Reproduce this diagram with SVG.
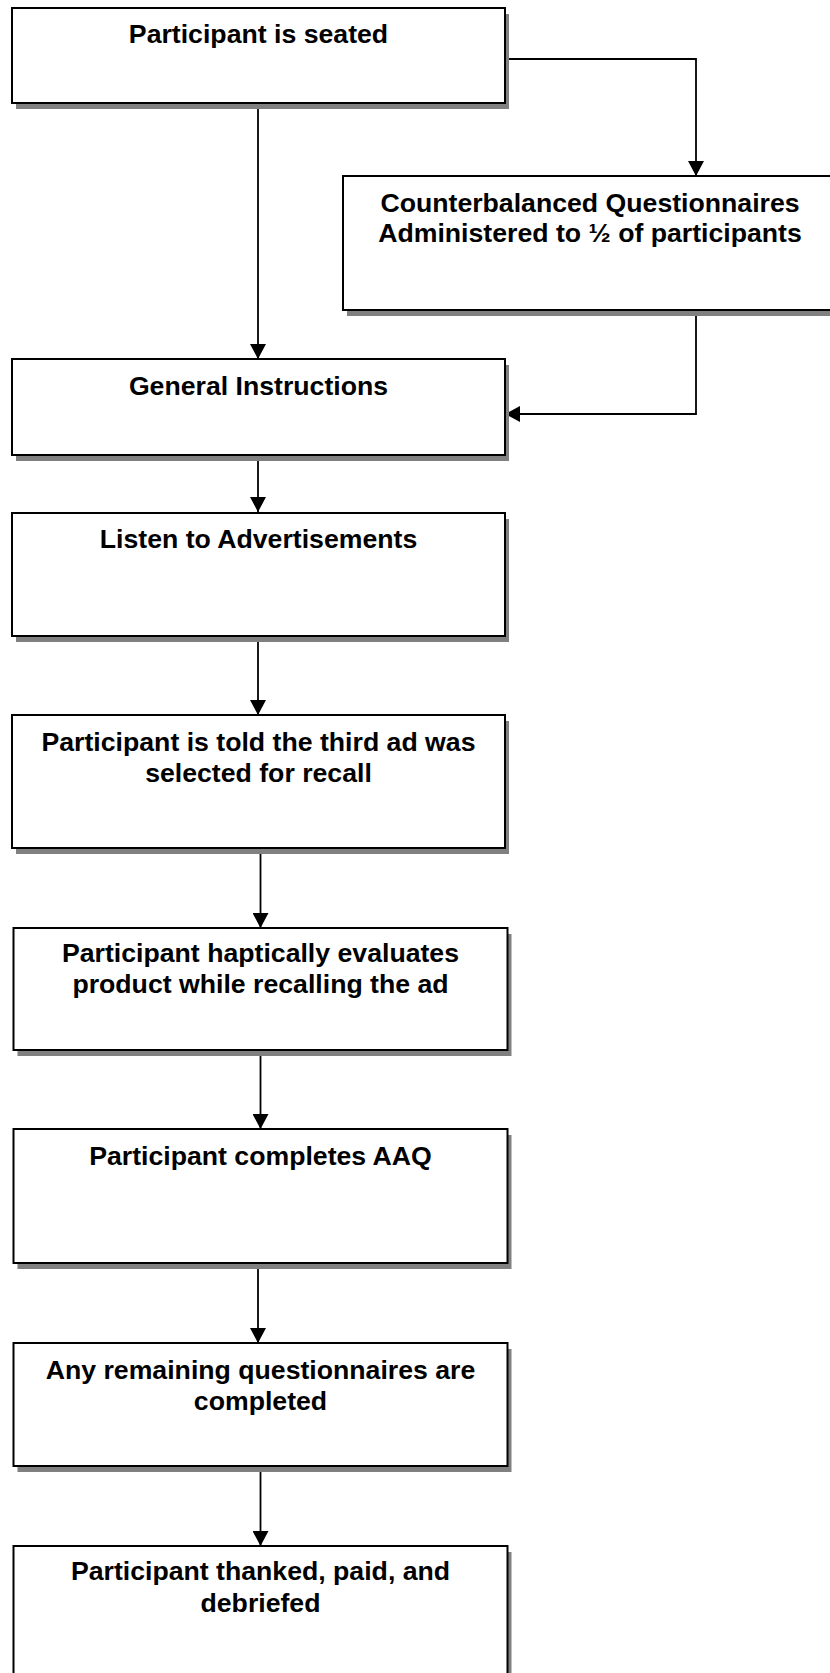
<svg xmlns="http://www.w3.org/2000/svg" width="830" height="1673" viewBox="0 0 830 1673">
<style>
.sh{fill:#808080;stroke:none}
.bx{fill:#fff;stroke:#000;stroke-width:2}
.t{font-family:"Liberation Sans",Arial,sans-serif;font-weight:bold;font-size:26.67px;fill:#000;text-anchor:middle}
.c{fill:none;stroke:#000;stroke-width:1.8}
</style>
<defs>
<marker id="ah" viewBox="0 0 15 16" refX="15" refY="8" markerWidth="15" markerHeight="16" orient="auto" markerUnits="userSpaceOnUse">
<path d="M0,0 L15,8 L0,16 Z" fill="#000"/>
</marker>
</defs>
<rect width="830" height="1673" fill="#fff"/>
<g id="connectors">
<path class="c" d="M258,103 V359" marker-end="url(#ah)"/>
<path class="c" d="M505,59 H696 V176" marker-end="url(#ah)"/>
<path class="c" d="M696,310 V414 H505" marker-end="url(#ah)"/>
<path class="c" d="M258,455 V512" marker-end="url(#ah)"/>
<path class="c" d="M258,636 V715" marker-end="url(#ah)"/>
<path class="c" d="M260.5,848 V928" marker-end="url(#ah)"/>
<path class="c" d="M260.5,1050 V1129" marker-end="url(#ah)"/>
<path class="c" d="M258,1263 V1343" marker-end="url(#ah)"/>
<path class="c" d="M260.5,1466 V1546" marker-end="url(#ah)"/>
</g>
<g id="n1">
<rect class="sh" x="16" y="14" width="493" height="95"/>
<rect class="bx" x="12" y="8" width="493" height="95"/>
<text class="t" x="258.5" y="43">Participant is seated</text>
</g>
<g id="n2">
<rect class="sh" x="347" y="182" width="493" height="134"/>
<rect class="bx" x="343" y="176" width="493" height="134"/>
<text class="t" x="590" y="212">Counterbalanced Questionnaires</text>
<text class="t" x="590" y="242">Administered to ½ of participants</text>
</g>
<g id="n3">
<rect class="sh" x="16" y="365" width="493" height="96"/>
<rect class="bx" x="12" y="359" width="493" height="96"/>
<text class="t" x="258.5" y="395">General Instructions</text>
</g>
<g id="n4">
<rect class="sh" x="16" y="519" width="493" height="123"/>
<rect class="bx" x="12" y="513" width="493" height="123"/>
<text class="t" x="258.5" y="548">Listen to Advertisements</text>
</g>
<g id="n5">
<rect class="sh" x="16" y="721" width="493" height="133"/>
<rect class="bx" x="12" y="715" width="493" height="133"/>
<text class="t" x="258.5" y="751">Participant is told the third ad was</text>
<text class="t" x="258.5" y="782">selected for recall</text>
</g>
<g id="n6">
<rect class="sh" x="17.5" y="934" width="494" height="122"/>
<rect class="bx" x="13.5" y="928" width="494" height="122"/>
<text class="t" x="260.5" y="962">Participant haptically evaluates</text>
<text class="t" x="260.5" y="993">product while recalling the ad</text>
</g>
<g id="n7">
<rect class="sh" x="17.5" y="1135" width="494" height="134"/>
<rect class="bx" x="13.5" y="1129" width="494" height="134"/>
<text class="t" x="260.5" y="1165">Participant completes AAQ</text>
</g>
<g id="n8">
<rect class="sh" x="17.5" y="1349" width="494" height="123"/>
<rect class="bx" x="13.5" y="1343" width="494" height="123"/>
<text class="t" x="260.5" y="1379">Any remaining questionnaires are</text>
<text class="t" x="260.5" y="1410">completed</text>
</g>
<g id="n9">
<rect class="sh" x="17.5" y="1552" width="494" height="140"/>
<rect class="bx" x="13.5" y="1546" width="494" height="140"/>
<text class="t" x="260.5" y="1580">Participant thanked, paid, and</text>
<text class="t" x="260.5" y="1612">debriefed</text>
</g>
</svg>
